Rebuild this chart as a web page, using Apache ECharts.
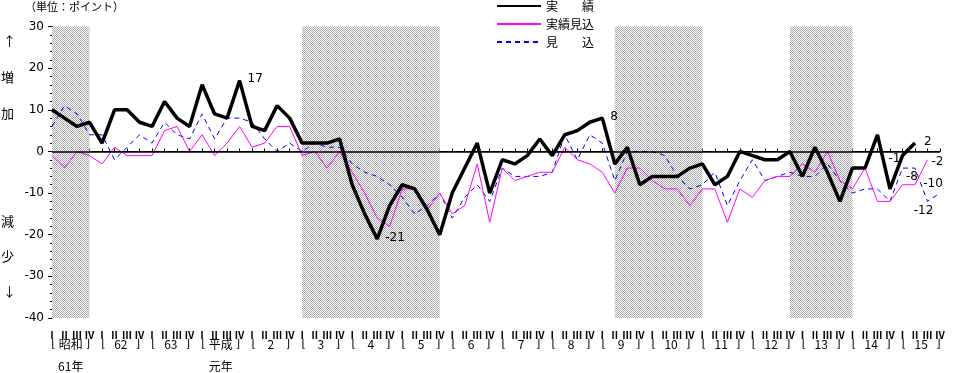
<!DOCTYPE html>
<html>
<head>
<meta charset="utf-8">
<script src="https://cdn.jsdelivr.net/npm/echarts@6/dist/echarts.min.js"></script>
<style>
html,body{margin:0;padding:0;background:#fff;}
#main{width:955px;height:373px;}
</style>
</head>
<body>
<div id="main"></div>
<script>
// ---- data ----
const yearNames = ['昭和','62','63','平成','2','3','4','5','6','7','8','9','10','11','12','13','14','15'];
const yearSubNames = ['61年','','','元年','','','','','','','','','','','','','',''];
const quarterNames = ['Ⅰ','Ⅱ','Ⅲ','Ⅳ'];
const seriesNames = ['実　　績','実績見込','見　　込'];

// 実績 (actual)
const actual = [10,8,6,7,2,10,10,7,6,12, 8,6,16,9,8,17,6,5,11,8,
  2,2,2,3,-8,-15,-21,-13,-8,-9, -14,-20,-10,-4,2,-10,-2,-3,-1,3,
  -1,4,5,7,8,-3,1,-8,-6,-6, -6,-4,-3,-8,-6,0,-1,-2,-2,0,
  -6,1,-5,-12,-4,-4,4,-9,-1,2];
// 実績見込
const expectedActual = [-1,-4,0,-1,-3,1,-1,-1,-1,5, 6,0,4,-1,2,6,1,2,6,6,
  -1,0,-4,0,-5,-10,-16,-18,-9,-9, -14,-10,-15,-13,-3,-17,-4,-7,-6,-5,
  -5,1,-2,-3,-5,-10,-4,-4,-7,-9, -9,-13,-9,-9,-17,-9,-11,-7,-6,-6,
  -3,-5,0,-7,-9,-4,-12,-12,-8,-8,-2];
// 見込
const forecast = [6,11,9,4,4,-2,1,4,2,7, 4,3,9,3,8,8,7,3,0,2,
  0,2,1,1,-3,-5,-6,-8,-11,-15, -13,-10,-16,-11,-8,-12,-4,-6,-6,-6,
  -5,4,-2,4,2,-7,0,0,0,-1, -6,-9,-8,-5,-13,-7,-2,-7,-6,-5,
  -6,-6,-3,-7,-10,-9,-9,-12,-4,-4,-12,-10];

// recession shading, as category index ranges
const shadeRanges = [[0,3],[20,31],[45,52],[59,64]];

// ---- build ----
const categories = [];
yearNames.forEach((y, yi) => quarterNames.forEach((q, qi) => categories.push(yi + '-' + qi)));

const lblFont = {fontSize: 12, color: '#000', fontFamily: 'DejaVu Sans'};
const actualLabels = {
  15: {position: 'right', distance: 8, offset: [0,-2]},
  26: {position: 'right', distance: 8, offset: [0,-1]},
  44: {position: 'right', distance: 8, offset: [0,-1]},
  68: {position: 'left', distance: 2, offset: [0,3]},
  69: {position: 'right', distance: 9, offset: [0,-1]}
};
const expectedLabels = {
  69: {position: 'top', distance: 2, offset: [-3,0]},
  70: {position: 'right', distance: 4, offset: [0,2]}
};
const forecastLabels = {
  70: {position: 'bottom', distance: 3, offset: [-4,0]},
  71: {position: 'top', distance: 3, offset: [-7,0]}
};
function withLabels(vals, spec) {
  return vals.map((v, i) => spec[i] ? {value: v, label: Object.assign({show: true}, lblFont, spec[i])} : v);
}

const pat = document.createElement('canvas');
pat.width = 2; pat.height = 2;
const pctx = pat.getContext('2d');
pctx.fillStyle = '#ffffff'; pctx.fillRect(0,0,2,2);
pctx.fillStyle = '#a8a8a8'; pctx.fillRect(0,0,1,1); pctx.fillRect(1,1,1,1);

const jp = "'Noto Sans CJK JP', sans-serif";
const hidden = {position: 'bottom', offset: 0, axisLine: {show: false}, axisTick: {show: false}, splitLine: {show: false}};

const chart = echarts.init(document.getElementById('main'), null, {renderer: 'canvas'});
chart.setOption({
  animation: false,
  backgroundColor: '#fff',
  textStyle: {fontFamily: jp},
  grid: [
    {left: 52, right: 15, top: 26.5, bottom: 55},
    {left: 45.75, right: 8.75, top: 26.5, bottom: 55}
  ],
  legend: {
    orient: 'vertical', left: 496, top: 0, padding: 0,
    itemWidth: 44, itemHeight: 12, itemGap: 6,
    data: seriesNames,
    itemStyle: {opacity: 0},
    textStyle: {fontSize: 12, color: '#000', fontFamily: jp}
  },
  xAxis: [
    {
      type: 'category', gridIndex: 0, position: 'bottom', data: categories, boundaryGap: false,
      axisLine: {lineStyle: {color: '#000', width: 1}},
      axisTick: {inside: true, length: 3, interval: 0, lineStyle: {color: '#000'}},
      axisLabel: {interval: 0, margin: 17, verticalAlign: 'middle', fontSize: 10, fontWeight: 'bold', color: '#000', fontFamily: jp,
        formatter: (v, i) => quarterNames[i % 4]},
      splitLine: {show: false}
    },
    Object.assign({
      type: 'category', gridIndex: 1, data: yearNames, boundaryGap: true,
      axisLabel: {
        interval: 0, margin: 26, verticalAlign: 'middle', color: '#000',
        formatter: (v, i) => '{l|⌊}{m|' + yearNames[i] + '}{r|⌋}',
        rich: {
          l: {width: 6, align: 'left', fontFamily: 'DejaVu Sans', fontSize: 11, color: '#000'},
          m: {width: 27, align: 'center', fontFamily: jp, fontSize: 12, color: '#000'},
          r: {width: 6, align: 'right', fontFamily: 'DejaVu Sans', fontSize: 11, color: '#000'}
        }
      }
    }, hidden),
    Object.assign({
      type: 'category', gridIndex: 1, data: yearSubNames, boundaryGap: true,
      axisLabel: {interval: 0, margin: 48, verticalAlign: 'middle', color: '#000', fontFamily: jp, fontSize: 12,
        formatter: (v, i) => yearSubNames[i]}
    }, hidden)
  ],
  yAxis: [
    {
      type: 'value', gridIndex: 0, min: -40, max: 30, interval: 10,
      axisLine: {show: true, lineStyle: {color: '#000', width: 1}},
      axisTick: {show: true, length: 4, lineStyle: {color: '#000'}},
      minorTick: {show: true, splitNumber: 5, length: 2, lineStyle: {color: '#000'}},
      axisLabel: {margin: 8, fontSize: 12, color: '#000', fontFamily: 'DejaVu Sans'},
      splitLine: {show: false}
    },
    {type: 'value', gridIndex: 1, show: false, min: -40, max: 30}
  ],
  graphic: [
    {type: 'text', left: 25, top: 1, style: {text: '（単位：ポイント）', font: "11px 'Noto Sans CJK JP'", fill: '#000'}},
    {type: 'text', left: 3, top: 35, style: {text: '↑', font: "13px 'Noto Sans CJK JP'", fill: '#000'}},
    {type: 'text', left: 1, top: 71, style: {text: '増', font: "13px 'Noto Sans CJK JP'", fill: '#000'}},
    {type: 'text', left: 1, top: 107, style: {text: '加', font: "13px 'Noto Sans CJK JP'", fill: '#000'}},
    {type: 'text', left: 1, top: 215, style: {text: '減', font: "13px 'Noto Sans CJK JP'", fill: '#000'}},
    {type: 'text', left: 1, top: 250, style: {text: '少', font: "13px 'Noto Sans CJK JP'", fill: '#000'}},
    {type: 'text', left: 3, top: 285, style: {text: '↓', font: "13px 'Noto Sans CJK JP'", fill: '#000'}}
  ],
  series: [
    {
      name: seriesNames[2], type: 'line', xAxisIndex: 0, yAxisIndex: 0,
      data: withLabels(forecast, forecastLabels),
      symbol: 'circle', symbolSize: 0, showSymbol: true,
      lineStyle: {color: '#0000ff', width: 1, type: [5,4]},
      itemStyle: {color: '#0000ff'},
      markArea: {
        silent: true,
        itemStyle: {color: {image: pat, repeat: 'repeat'}},
        data: shadeRanges.map(r => [{xAxis: r[0]}, {xAxis: r[1]}])
      },
      markLine: {
        silent: true, symbol: 'none', label: {show: false},
        lineStyle: {color: '#000', width: 1.5, type: 'solid'},
        data: [{yAxis: 0}]
      }
    },
    {
      name: seriesNames[1], type: 'line', xAxisIndex: 0, yAxisIndex: 0,
      data: withLabels(expectedActual, expectedLabels),
      symbol: 'circle', symbolSize: 0, showSymbol: true,
      lineStyle: {color: '#ff00ff', width: 1},
      itemStyle: {color: '#ff00ff'}
    },
    {
      name: seriesNames[0], type: 'line', xAxisIndex: 0, yAxisIndex: 0,
      data: withLabels(actual, actualLabels),
      symbol: 'circle', symbolSize: 0, showSymbol: true,
      lineStyle: {color: '#000', width: 3.5},
      itemStyle: {color: '#000'}
    }
  ]
});
</script>
</body>
</html>
